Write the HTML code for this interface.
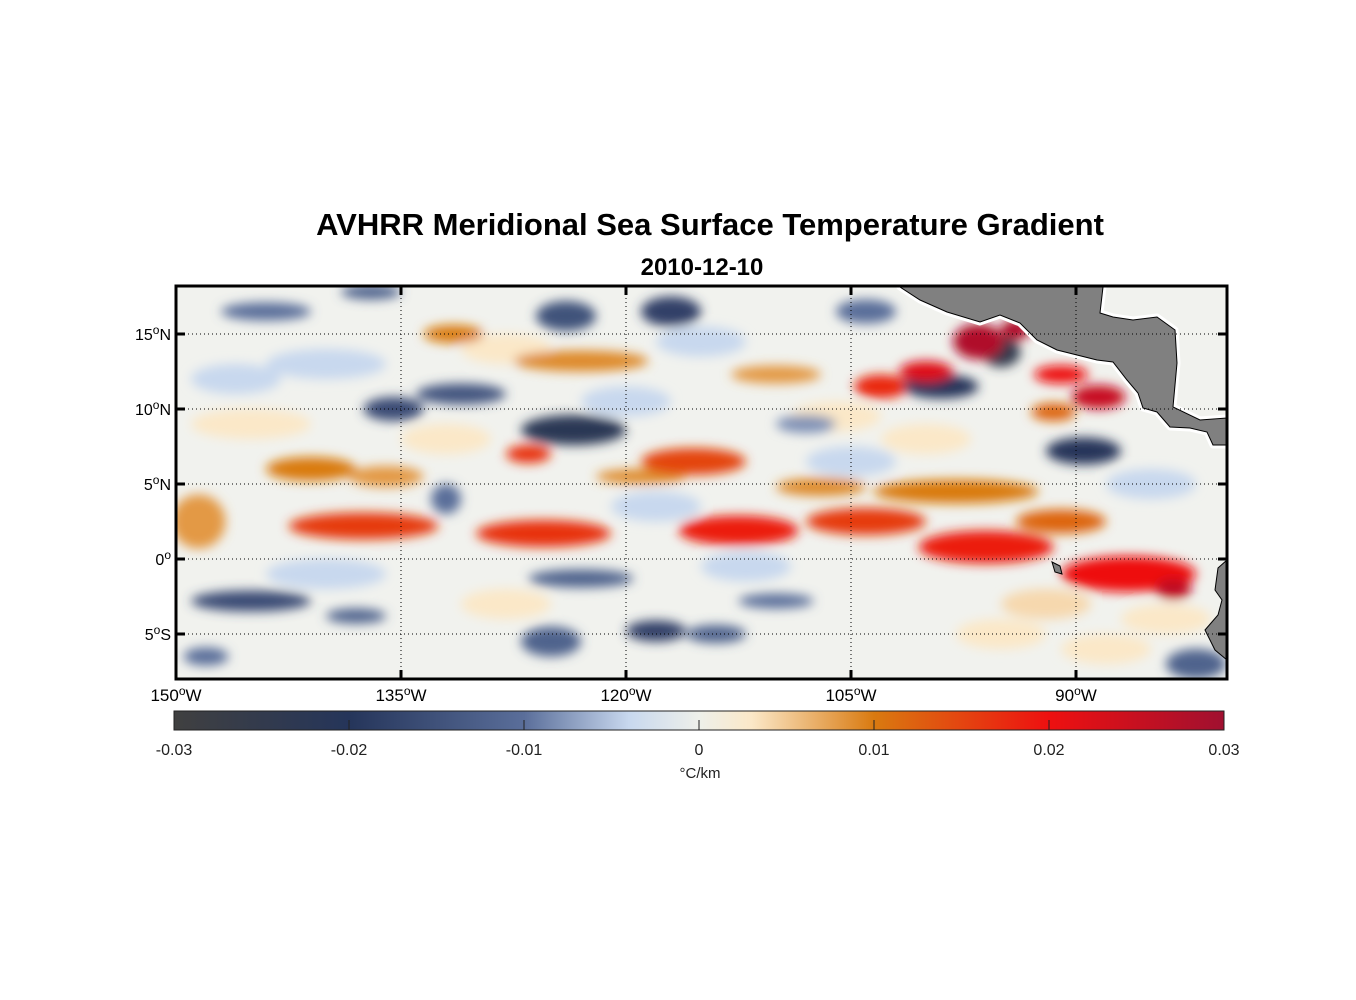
<!DOCTYPE html>
<html><head><meta charset="utf-8"><style>
body{margin:0;background:#fff;}
svg{display:block;font-family:"Liberation Sans",Arial,sans-serif;}
</style></head><body>
<svg id="chart" width="1356" height="1000" viewBox="0 0 1356 1000">
<defs>
<clipPath id="frameClip"><rect x="176" y="286" width="1051" height="393"/></clipPath>
<filter id="blur" x="-50%" y="-50%" width="200%" height="200%"><feGaussianBlur stdDeviation="5.5"/></filter>
<linearGradient id="cbar" x1="0" x2="1" y1="0" y2="0"></linearGradient>
</defs>
<text x="710" y="235" text-anchor="middle" font-size="31" font-weight="bold">AVHRR Meridional Sea Surface Temperature Gradient</text>
<text x="702" y="275" text-anchor="middle" font-size="24" font-weight="bold">2010-12-10</text>
<rect x="176" y="286" width="1051" height="393" fill="#f1f2ee"/>
<g id="field" clip-path="url(#frameClip)"><g id="blobs" filter="url(#blur)"></g></g>
<g clip-path="url(#frameClip)">
<polygon fill="#808080" stroke="#fff" stroke-width="7" stroke-linejoin="round" points="900,287 1103,287 1100,313 1113,317 1133,320 1157,317 1175,330 1177,363 1173,407 1200,420 1227,418 1227,445 1213,445 1207,432 1190,428 1170,427 1157,412 1143,408 1138,393 1127,380 1113,362 1097,360 1077,355 1057,350 1037,340 1020,323 1000,315 980,322 947,312 920,300"/>
<polygon fill="#808080" stroke="#000" stroke-width="1" points="900,287 1103,287 1100,313 1113,317 1133,320 1157,317 1175,330 1177,363 1173,407 1200,420 1227,418 1227,445 1213,445 1207,432 1190,428 1170,427 1157,412 1143,408 1138,393 1127,380 1113,362 1097,360 1077,355 1057,350 1037,340 1020,323 1000,315 980,322 947,312 920,300"/>
<polygon fill="#808080" stroke="#000" stroke-width="1" points="1227,560 1218,568 1215,590 1222,600 1218,615 1205,630 1215,650 1227,660"/>
<polygon fill="#808080" stroke="#000" stroke-width="1" points="1052,562 1060,566 1062,574 1055,572"/>
</g>
<g id="grid"></g>
<rect x="176" y="286" width="1051" height="393" fill="none" stroke="#000" stroke-width="3"/>
<g id="axes"></g>
<rect x="174" y="711" width="1050" height="19" fill="url(#cbar)" stroke="#222" stroke-width="1"/>
<g id="cbticks"></g>
<text x="700" y="778" text-anchor="middle" font-size="15" fill="#222">°C/km</text>
</svg>
<script>
const latTicks=[15,10,5,0,-5];
const latTickLabels=["15","10","5","0","5"];
const latTickSuffix=["N","N","N","","S"];
const lonTicks=[-150,-135,-120,-105,-90];
const lonTickLabels=["150","135","120","105","90"];
const cbTicks=[-0.03,-0.02,-0.01,0,0.01,0.02,0.03];
const cbTickLabels=["-0.03","-0.02","-0.01","0","0.01","0.02","0.03"];
const blobLon=[-137.5,-125.5,-112.5,-104,-96,-86.5,-83.5,-98,-148.5,-141,-136,-131.5,-123,-126.5,-115.5,-103,-100,-96.5,-94,-88.5,-91,-91.5,-110,-119,-107,-91,
 -123.5,-135.5,-131,-117,-124,-145,-138,-123,-118,-125,-99,-95,-89.5,-110,-114,-82,-144,-137,-104,-148,-132,-108,
 -140,-128,-115,-100,-85,-145,-120,-105,-92,-140,-128,-112,-95,-84,-146,-132,-118,-106,-88];
const blobLat=[2.2,1.7,1.9,2.5,0.8,-1.0,-2.0,4.5,2.5,6,5.5,15,13.2,7,6.5,11.5,12.5,14.5,15.3,10.8,12.3,9.8,12.3,5.5,4.8,2.5,
 8.6,10,11,16.5,16.2,-2.8,-3.8,-1.3,-4.8,-5.5,11.5,13.8,7.2,-2.8,-5,-7,16.5,17.8,16.5,-6.5,4,9,
 13,14,14.5,8,5,9,10.5,6.5,-3,-1,-3,-0.5,-5,-4,12,8,3.5,9.5,-6];
const blobHalfLon=[5,4.5,4,4,4.5,4.5,1.2,5.5,1.8,3,2.5,2,4.5,1.5,3.5,1.8,1.8,1.7,1,1.8,1.8,1.5,3,3,3,3,
 3.5,2,3,2,2,4,2,3.5,2,2,2.5,1.3,2.5,2.5,2,2,3,2,2,1.5,1,2,
 4,3,3,3,3,4,3,3,3,4,3,3,3,3,3,3,3,3,3];
const blobHalfLat=[0.9,0.9,1.0,0.9,1.1,1.2,0.7,0.8,1.8,0.8,0.7,0.6,0.7,0.6,0.9,0.8,0.7,1.2,0.7,0.8,0.6,0.6,0.6,0.5,0.6,0.8,
 1,0.8,0.7,1,1,0.7,0.5,0.6,0.7,1,0.8,1,0.9,0.5,0.6,1,0.6,0.5,0.8,0.6,1,0.6,
 1,1,1,1,1,1,1,1,1,1,1,1,1,1,1,1,1,1,1];
const blobVal=[0.016,0.017,0.019,0.016,0.019,0.02,0.026,0.01,0.008,0.01,0.008,0.01,0.009,0.017,0.015,0.018,0.022,0.028,0.028,0.025,0.02,0.012,0.008,0.009,0.009,0.012,
 -0.022,-0.016,-0.014,-0.018,-0.015,-0.016,-0.012,-0.012,-0.018,-0.012,-0.02,-0.025,-0.02,-0.01,-0.012,-0.012,-0.01,-0.012,-0.01,-0.01,-0.01,-0.008,
 -0.004,0.003,-0.004,0.003,-0.004,0.003,-0.004,-0.004,0.004,-0.004,0.003,-0.004,0.003,0.003,-0.004,0.003,-0.004,0.003,0.003];

const X0=176,PX=15,Y0=559;
const xScale=lon=>X0+(lon+150)*PX;
const yScale=lat=>Y0-lat*PX;
const cbScale=v=>174+(v+0.03)/0.06*1050;
const stops=[[-0.03,[64,64,64]],[-0.02,[37,53,90]],[-0.01,[90,110,154]],[-0.004,[200,216,238]],[0,[238,240,234]],[0.003,[251,232,200]],[0.01,[217,122,16]],[0.02,[238,16,16]],[0.03,[160,16,48]]];
function cmap(v){v=Math.max(-0.03,Math.min(0.03,v));for(let i=0;i<stops.length-1;i++){const a=stops[i],b=stops[i+1];if(v<=b[0]){const t=(v-a[0])/(b[0]-a[0]);const c=a[1].map((x,k)=>Math.round(x+(b[1][k]-x)*t));return `rgb(${c})`;}}return 'rgb(160,16,48)';}
const NS='http://www.w3.org/2000/svg';
function mk(tag,attrs,parent){const e=document.createElementNS(NS,tag);for(const k in attrs)e.setAttribute(k,attrs[k]);parent.appendChild(e);return e;}
const grad=document.getElementById('cbar');
stops.forEach(s=>{mk('stop',{offset:((s[0]+0.03)/0.06*100)+'%','stop-color':cmap(s[0])},grad);});
const blobs=document.getElementById('blobs');
const order=blobVal.map((v,i)=>i).sort((a,b)=>Math.abs(blobVal[a])-Math.abs(blobVal[b]));
order.forEach(i=>{
 const e=mk('ellipse',{cx:xScale(blobLon[i]),cy:yScale(blobLat[i]),rx:blobHalfLon[i]*PX,ry:blobHalfLat[i]*PX,fill:cmap(blobVal[i])},blobs);
 
 
});
const grid=document.getElementById('grid'),axes=document.getElementById('axes');
latTicks.forEach((lat,i)=>{const y=yScale(lat);
 const l=mk('line',{x1:176,x2:1227,y1:y,y2:y,stroke:'#000','stroke-width':1,'stroke-dasharray':'1 3'},grid);
 
 mk('line',{x1:176,x2:185,y1:y,y2:y,stroke:'#000','stroke-width':3},axes);
 mk('line',{x1:1218,x2:1227,y1:y,y2:y,stroke:'#000','stroke-width':3},axes);
 const t=mk('text',{x:171,y:y+6,'text-anchor':'end','font-size':16},axes);
 
 t.innerHTML=latTickLabels[i]+'<tspan dy="-6" font-size="12">o</tspan><tspan dy="6">'+latTickSuffix[i]+'</tspan>';
});
lonTicks.forEach((lon,i)=>{const x=xScale(lon);
 const l=mk('line',{x1:x,x2:x,y1:286,y2:679,stroke:'#000','stroke-width':1,'stroke-dasharray':'1 3'},grid);
 
 mk('line',{x1:x,x2:x,y1:286,y2:295,stroke:'#000','stroke-width':3},axes);
 mk('line',{x1:x,x2:x,y1:670,y2:679,stroke:'#000','stroke-width':3},axes);
 const t=mk('text',{x:x,y:701,'text-anchor':'middle','font-size':17},axes);
 
 t.innerHTML=lonTickLabels[i]+'<tspan dy="-6" font-size="12">o</tspan><tspan dy="6">W</tspan>';
});
const cbt=document.getElementById('cbticks');
cbTicks.forEach((v,i)=>{const x=cbScale(v);
 if(i>0&&i<cbTicks.length-1)mk('line',{x1:x,x2:x,y1:720,y2:730,stroke:'#222','stroke-width':1},cbt);
 const t=mk('text',{x:x,y:755,'text-anchor':'middle','font-size':16,fill:'#222'},cbt);
 
 t.textContent=cbTickLabels[i];
});
</script>
</body></html>
